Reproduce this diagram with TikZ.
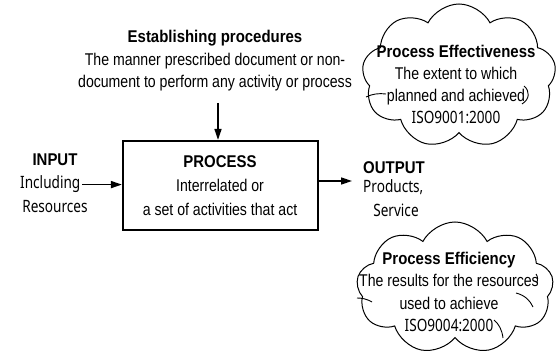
\documentclass[tikz,border=0pt]{standalone}
\usepackage{fontspec}
\setmainfont{Liberation Sans}
\newfontfamily\nar{Liberation Sans}[FakeStretch=0.83]
\newfontfamily\hd{Noto Sans}[FakeStretch=0.8]
\newfontfamily\hdb{Liberation Sans}[FakeStretch=0.88]
\usetikzlibrary{shapes.symbols,arrows.meta}
\begin{document}
\begin{tikzpicture}[x=1pt,y=-1pt,
  desc/.style={font=\nar\fontsize{17}{20}\selectfont, inner sep=0pt, anchor=base},
  head/.style={font=\hdb\bfseries\fontsize{17}{20}\selectfont, inner sep=0pt, anchor=base},
  lab/.style={font=\hd\fontsize{17}{20}\selectfont, inner sep=0pt, anchor=base},
  arr/.style={line width=1.6pt, -{Triangle[length=11pt,width=7pt]}},
  cloudbox/.style={cloud, draw, line width=1pt, cloud puffs=9, cloud puff arc=125, inner sep=0pt},
  puffline/.style={line width=0.9pt}
]
\useasboundingbox (0,0) rectangle (556,355);
% process box
\node[draw, line width=2.2pt, minimum width=195pt, minimum height=89pt, inner sep=0pt] (box) at (220.5,185.5) {};
\node[head] (ph) at (220,168) {PROCESS};
\node[desc] (p1) at (220,192) {Interrelated or};
\node[desc] (p2) at (220,215) {a set of activities that act};
% establishing procedures
\node[head] (esth) at (215,43) {Establishing procedures};
\node[desc] (est1) at (215,66) {The manner prescribed document or non-};
\node[desc] (est2) at (215,88) {document to perform any activity or process};
\coordinate (estarr) at (218,103);
\draw[arr] (estarr) -- (estarr |- box.north);
% input
\node[head] (inh) at (55,166) {INPUT};
\node[lab, anchor=base west] (inc) at (20,189) {Including};
\node[lab] (inres) at (55,213) {Resources};
\draw[arr] ([xshift=2pt]inc.east) -- (inc.east -| box.west);
% output
\coordinate (outend) at (352,181);
\draw[arr] (box.east |- outend) -- (outend);
\node[head, anchor=base west] (outh) at (363,174) {OUTPUT};
\node[lab, anchor=base west] (outp) at (363,193) {Products,};
\node[lab] (outs) at (396,216) {Service};
% cloud 1
\node[cloudbox, minimum width=194pt, minimum height=144pt] (c1) at (459,76) {};
\draw[puffline] (366,97) .. controls (372,94) and (379,93) .. (386,94);
\draw[puffline] (524,86) .. controls (530,91) and (530,99) .. (522,104);
\node[head] (c1h) at (456,58) {Process Effectiveness};
\node[desc] (c1a) at (456,80) {The extent to which};
\node[desc] (c1b) at (456,102) {planned and achieved};
\node[lab] (c1c) at (456,124) {ISO9001:2000};
% cloud 2
\node[cloudbox, minimum width=197pt, minimum height=132pt] (c2) at (455,288) {};
\draw[puffline] (357,298) .. controls (362,298) and (367,299) .. (372,302);
\draw[puffline] (536,274) .. controls (538,277) and (538,280) .. (537,283);
\draw[puffline] (516,293) .. controls (524,295) and (530,300) .. (533,307);
\draw[puffline] (494,320) .. controls (499,324) and (502,330) .. (503,338);
\node[head] (c2h) at (449,264) {Process Efficiency};
\node[desc] (c2a) at (449,286) {The results for the resources};
\node[desc] (c2b) at (449,309) {used to achieve};
\node[lab] (c2c) at (449,331) {ISO9004:2000};
\end{tikzpicture}
\end{document}
